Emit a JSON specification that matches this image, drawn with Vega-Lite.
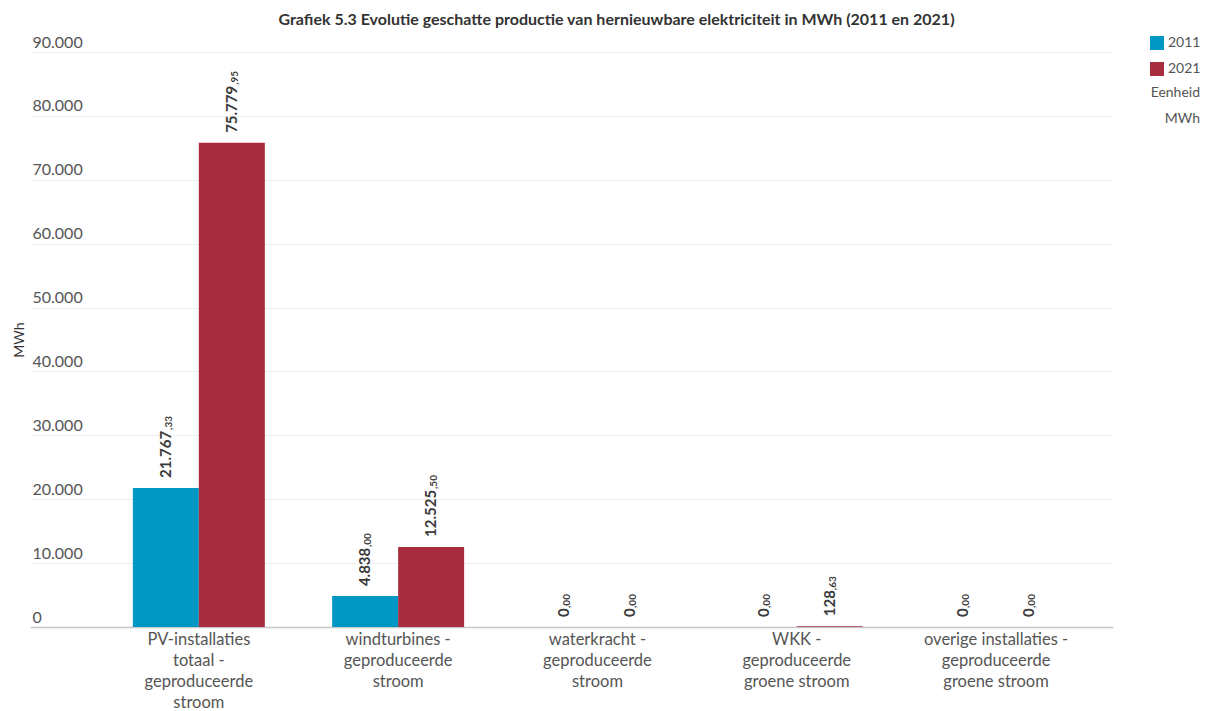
{
  "$schema": "https://vega.github.io/schema/vega-lite/v6.json",
  "width": 1083,
  "height": 575,
  "autosize": {"type": "none"},
  "padding": {"left": 30, "top": 52, "right": 100, "bottom": 84},
  "background": "white",
  "title": {
    "text": "Grafiek 5.3 Evolutie geschatte productie van hernieuwbare elektriciteit in MWh (2011 en 2021)",
    "fontSize": 16,
    "fontWeight": "bold",
    "color": "#333333",
    "anchor": "middle",
    "dx": 45,
    "offset": 6
  },
  "data": {
    "values": [
      {"categorie": "PV-installaties totaal - geproduceerde stroom", "jaar": "2011", "waarde": 21767.33, "label": "21.767", "dec": ",33"},
      {"categorie": "PV-installaties totaal - geproduceerde stroom", "jaar": "2021", "waarde": 75779.95, "label": "75.779", "dec": ",95"},
      {"categorie": "windturbines - geproduceerde stroom", "jaar": "2011", "waarde": 4838.00, "label": "4.838", "dec": ",00"},
      {"categorie": "windturbines - geproduceerde stroom", "jaar": "2021", "waarde": 12525.50, "label": "12.525", "dec": ",50"},
      {"categorie": "waterkracht - geproduceerde stroom", "jaar": "2011", "waarde": 0, "label": "0", "dec": ",00"},
      {"categorie": "waterkracht - geproduceerde stroom", "jaar": "2021", "waarde": 0, "label": "0", "dec": ",00"},
      {"categorie": "WKK - geproduceerde groene stroom", "jaar": "2011", "waarde": 0, "label": "0", "dec": ",00"},
      {"categorie": "WKK - geproduceerde groene stroom", "jaar": "2021", "waarde": 128.63, "label": "128", "dec": ",63"},
      {"categorie": "overige installaties - geproduceerde groene stroom", "jaar": "2011", "waarde": 0, "label": "0", "dec": ",00"},
      {"categorie": "overige installaties - geproduceerde groene stroom", "jaar": "2021", "waarde": 0, "label": "0", "dec": ",00"}
    ]
  },
  "encoding": {
    "x": {
      "field": "categorie",
      "type": "nominal",
      "sort": null,
      "scale": {"paddingInner": 0, "paddingOuter": 0.217, "align": 0.8},
      "axis": {
        "title": null,
        "labelAngle": 0,
        "labelExpr": "datum.value == 'PV-installaties totaal - geproduceerde stroom' ? ['PV-installaties','totaal -','geproduceerde','stroom'] : datum.value == 'windturbines - geproduceerde stroom' ? ['windturbines -','geproduceerde','stroom'] : datum.value == 'waterkracht - geproduceerde stroom' ? ['waterkracht -','geproduceerde','stroom'] : datum.value == 'WKK - geproduceerde groene stroom' ? ['WKK -','geproduceerde','groene stroom'] : ['overige installaties -','geproduceerde','groene stroom']",
        "labelFontSize": 16.5,
        "labelColor": "#555555",
        "labelLineHeight": 21,
        "labelBaseline": "top",
        "labelPadding": 4,
        "labelLimit": 0,
        "ticks": false,
        "tickSize": 0,
        "domainColor": "#c8c8c8",
        "domainWidth": 1.5
      }
    },
    "xOffset": {
      "field": "jaar",
      "type": "nominal",
      "scale": {"paddingInner": 0, "paddingOuter": 0.51}
    },
    "y": {
      "field": "waarde",
      "type": "quantitative",
      "scale": {"domain": [0, 90000], "nice": false},
      "axis": {
        "title": "MWh",
        "values": [0, 10000, 20000, 30000, 40000, 50000, 60000, 70000, 80000, 90000],
        "format": ",d",
        "labelAlign": "left",
        "labelBaseline": "alphabetic",
        "labelPadding": -2,
        "labelOffset": -5,
        "labelFlush": false,
        "labelOverlap": false,
        "labelFontSize": 16,
        "labelColor": "#555555",
        "ticks": false,
        "tickSize": 0,
        "domain": false,
        "gridColor": "#eeeeee",
        "titleFontSize": 14,
        "titleFontWeight": "normal",
        "titleColor": "#333333",
        "titlePadding": 4
      }
    }
  },
  "layer": [
    {
      "mark": {"type": "bar"},
      "encoding": {
        "color": {
          "field": "jaar",
          "type": "nominal",
          "scale": {"domain": ["2011", "2021"], "range": ["#0097c4", "#a72d3e"]},
          "legend": {
            "orient": "none",
            "legendX": 1120,
            "legendY": -16,
            "padding": 0,
            "title": ["Eenheid", "MWh"],
            "titleOrient": "bottom",
            "titleAlign": "right",
            "titleAnchor": "end",
            "titleFontWeight": "normal",
            "titleFontSize": 14,
            "titleColor": "#555555",
            "titleLineHeight": 26,
            "titlePadding": 10,
            "symbolType": "square",
            "symbolSize": 196,
            "symbolStrokeWidth": 0,
            "labelFontSize": 14,
            "labelColor": "#555555",
            "labelOffset": 4,
            "rowPadding": 12
          }
        }
      }
    },
    {
      "mark": {"type": "text", "angle": -90, "align": "left", "baseline": "middle", "dx": 10, "fontSize": 15, "fontWeight": "bold", "color": "#3a3a3a"},
      "encoding": {"text": {"field": "label"}}
    },
    {
      "transform": [{"filter": "length(datum.label) == 6"}],
      "mark": {"type": "text", "angle": -90, "align": "left", "baseline": "middle", "dx": 58, "dy": 3, "fontSize": 10, "fontWeight": "bold", "color": "#3a3a3a"},
      "encoding": {"text": {"field": "dec"}}
    },
    {
      "transform": [{"filter": "length(datum.label) == 5"}],
      "mark": {"type": "text", "angle": -90, "align": "left", "baseline": "middle", "dx": 49, "dy": 3, "fontSize": 10, "fontWeight": "bold", "color": "#3a3a3a"},
      "encoding": {"text": {"field": "dec"}}
    },
    {
      "transform": [{"filter": "length(datum.label) == 3"}],
      "mark": {"type": "text", "angle": -90, "align": "left", "baseline": "middle", "dx": 36, "dy": 3, "fontSize": 10, "fontWeight": "bold", "color": "#3a3a3a"},
      "encoding": {"text": {"field": "dec"}}
    },
    {
      "transform": [{"filter": "length(datum.label) == 1"}],
      "mark": {"type": "text", "angle": -90, "align": "left", "baseline": "middle", "dx": 19, "dy": 3, "fontSize": 10, "fontWeight": "bold", "color": "#3a3a3a"},
      "encoding": {"text": {"field": "dec"}}
    }
  ],
  "config": {
    "font": "Lato",
    "view": {"stroke": null},
    "locale": {
      "number": {"decimal": ",", "thousands": ".", "grouping": [3], "currency": ["€", ""]}
    }
  }
}
